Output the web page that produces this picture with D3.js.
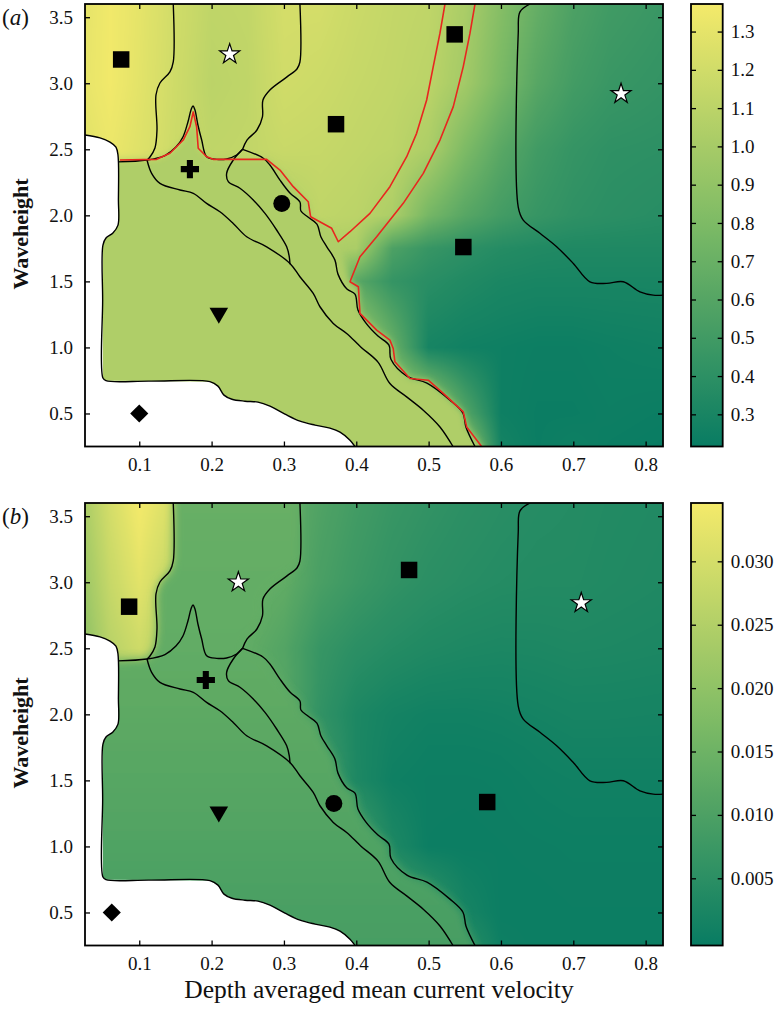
<!DOCTYPE html>
<html><head><meta charset="utf-8">
<script src="https://cdn.jsdelivr.net/npm/d3@7"></script>
<style>body{margin:0;background:#fff} svg text{font-family:"Liberation Serif","Times New Roman",serif;fill:#111}</style>
</head><body><svg id="chart" width="783" height="1009" xmlns="http://www.w3.org/2000/svg"></svg>
<script>
// ---------------- DATA ----------------
const xDomain = [0.025, 0.824];
const yDomain = [0.25, 3.6];
const xTicks = [0.1, 0.2, 0.3, 0.4, 0.5, 0.6, 0.7, 0.8];
const yTicks = [0.5, 1.0, 1.5, 2.0, 2.5, 3.0, 3.5];
const cbDomainA = [0.216, 1.372];
const cbTicksA = [0.3, 0.4, 0.5, 0.6, 0.7, 0.8, 0.9, 1.0, 1.1, 1.2, 1.3];
const cbDomainB = [-0.0003, 0.0346];
const cbTicksB = [0.005, 0.010, 0.015, 0.020, 0.025, 0.030];
const colorStops = ['#087c63', '#7cba65', '#f4ea6a'];

// field grid (columns = velocity, rows = waveheight, top row first)
const gx = [0.025, 0.06, 0.1, 0.15, 0.2, 0.25, 0.3, 0.35, 0.4, 0.45, 0.5, 0.55, 0.6, 0.65, 0.7, 0.75, 0.825];
const gy = [3.6, 3.0, 2.5, 2.0, 1.75, 1.5, 1.0, 0.5, 0.25];
const fieldA = [
  [1.30, 1.36, 1.30, 1.20, 1.12, 1.13, 1.22, 1.22, 1.17, 1.14, 1.12, 1.02, 0.84, 0.68, 0.56, 0.50, 0.46],
  [1.31, 1.36, 1.29, 1.19, 1.10, 1.12, 1.20, 1.18, 1.15, 1.13, 1.10, 0.98, 0.78, 0.61, 0.51, 0.46, 0.43],
  [1.28, 1.33, 1.27, 1.18, 1.12, 1.13, 1.16, 1.15, 1.13, 1.11, 1.03, 0.80, 0.62, 0.50, 0.44, 0.41, 0.40],
  [1.04, 1.04, 1.04, 1.04, 1.04, 1.04, 1.04, 1.12, 1.10, 1.03, 0.76, 0.61, 0.51, 0.45, 0.41, 0.39, 0.37],
  [1.04, 1.04, 1.04, 1.04, 1.04, 1.04, 1.04, 1.04, 1.02, 0.56, 0.45, 0.40, 0.36, 0.34, 0.33, 0.33, 0.33],
  [1.04, 1.04, 1.04, 1.04, 1.04, 1.04, 1.04, 1.04, 0.62, 0.44, 0.38, 0.34, 0.31, 0.30, 0.30, 0.30, 0.30],
  [1.04, 1.04, 1.04, 1.04, 1.04, 1.04, 1.04, 1.04, 1.04, 0.70, 0.29, 0.26, 0.25, 0.24, 0.24, 0.25, 0.26],
  [1.04, 1.04, 1.04, 1.04, 1.04, 1.04, 1.04, 1.04, 1.04, 1.04, 1.04, 0.60, 0.25, 0.23, 0.23, 0.24, 0.23],
  [1.04, 1.04, 1.04, 1.04, 1.04, 1.04, 1.04, 1.04, 1.04, 1.04, 1.04, 0.95, 0.28, 0.23, 0.25, 0.23, 0.22]
];
const fieldB = [
  [0.024, 0.030, 0.0345, 0.030, 0.014, 0.014, 0.013, 0.0105, 0.0085, 0.007, 0.006, 0.0052, 0.0046, 0.0042, 0.0040, 0.0037, 0.0034],
  [0.022, 0.028, 0.032, 0.027, 0.014, 0.014, 0.013, 0.0095, 0.0075, 0.006, 0.005, 0.0044, 0.0040, 0.0038, 0.0038, 0.0035, 0.0032],
  [0.020, 0.026, 0.029, 0.024, 0.013, 0.013, 0.011, 0.0068, 0.005, 0.004, 0.0033, 0.0029, 0.0027, 0.0028, 0.0030, 0.0029, 0.0027],
  [0.013, 0.013, 0.013, 0.013, 0.013, 0.013, 0.012, 0.006, 0.0028, 0.0016, 0.0011, 0.0011, 0.0013, 0.0016, 0.0019, 0.0019, 0.0018],
  [0.0122, 0.0122, 0.0122, 0.0122, 0.0122, 0.0122, 0.0122, 0.0075, 0.0028, 0.0012, 0.0007, 0.0007, 0.0008, 0.0011, 0.0014, 0.0014, 0.0014],
  [0.012, 0.012, 0.012, 0.012, 0.012, 0.012, 0.012, 0.009, 0.003, 0.0008, 0.0004, 0.0004, 0.0005, 0.0008, 0.0010, 0.0010, 0.0010],
  [0.0105, 0.0105, 0.0105, 0.0105, 0.0105, 0.0105, 0.0105, 0.0105, 0.009, 0.003, 0.0003, 0.0002, 0.0003, 0.0004, 0.0005, 0.0005, 0.0005],
  [0.0095, 0.0095, 0.0095, 0.0095, 0.0095, 0.0095, 0.0095, 0.0095, 0.0095, 0.0095, 0.007, 0.002, 0.0002, 0.0002, 0.0003, 0.0003, 0.0003],
  [0.009, 0.009, 0.009, 0.009, 0.009, 0.009, 0.009, 0.009, 0.009, 0.009, 0.009, 0.005, 0.0006, 0.0002, 0.0003, 0.0002, 0.0002]
];
const plateauValueA = 1.04;
const plateauProfileB = [[3.6, 0.0140], [2.5, 0.0132], [2.0, 0.0125], [1.5, 0.0116], [1.0, 0.0106], [0.5, 0.0096], [0.25, 0.0092]];

// regime boundaries (velocity, waveheight)
const lineW = [[0.025,2.608],[0.0457,2.586],[0.0595,2.555],[0.0678,2.517],[0.0706,2.456],[0.0712,2.116],[0.0706,1.926],[0.0636,1.866],[0.054,1.828],[0.0498,1.775],[0.0494,1.358],[0.0498,0.768],[0.054,0.748],[0.1148,0.745],[0.1977,0.741],[0.2088,0.707],[0.2171,0.639],[0.2281,0.608],[0.2461,0.593],[0.2641,0.586],[0.2807,0.555],[0.3014,0.495],[0.3222,0.442],[0.3429,0.412],[0.3636,0.389],[0.3775,0.359],[0.3913,0.298],[0.3982,0.25]];
const lineA = [[0.147,3.6],[0.147,3.161],[0.1424,3.086],[0.1286,3.002],[0.1231,2.911],[0.1245,2.646],[0.1217,2.510],[0.1148,2.442],[0.1107,2.419]];
const lineB = [[0.0706,2.405],[0.1107,2.419],[0.1355,2.453],[0.1507,2.517],[0.1604,2.593],[0.1673,2.707],[0.1715,2.798],[0.1742,2.828],[0.1770,2.798],[0.1811,2.684],[0.1863,2.570],[0.1932,2.444],[0.2070,2.424],[0.2208,2.427],[0.2346,2.457],[0.2429,2.500]];
const lineC = [[0.3221,3.6],[0.3221,3.161],[0.3180,3.108],[0.3042,3.048],[0.2806,2.949],[0.2710,2.873],[0.2703,2.745],[0.2627,2.646],[0.2489,2.570],[0.2429,2.500]];
const lineD = [[0.2429,2.500],[0.2300,2.419],[0.2208,2.318],[0.2231,2.255],[0.2392,2.205],[0.2576,2.116],[0.2738,2.015],[0.2899,1.889],[0.3038,1.762],[0.3074,1.686],[0.3083,1.630]];
const lineE = [[0.2429,2.500],[0.2710,2.434],[0.2806,2.381],[0.2945,2.267],[0.3083,2.169],[0.3221,2.101],[0.3235,2.033],[0.3332,1.987],[0.3456,1.934],[0.3512,1.836],[0.3595,1.760],[0.3705,1.661],[0.3747,1.555],[0.3871,1.442],[0.3982,1.404],[0.4023,1.283],[0.4134,1.184],[0.4300,1.086],[0.4452,1.017],[0.4479,0.911],[0.4700,0.783],[0.4977,0.730],[0.5295,0.601],[0.5475,0.502],[0.5517,0.396],[0.5641,0.25]];
const lineF = [[0.1107,2.419],[0.1171,2.318],[0.1286,2.242],[0.1563,2.192],[0.1747,2.167],[0.1931,2.091],[0.2115,2.027],[0.2299,1.939],[0.2485,1.838],[0.2761,1.762],[0.3083,1.636],[0.3221,1.535],[0.3405,1.409],[0.3498,1.308],[0.3682,1.182],[0.3867,1.106],[0.4065,1.002],[0.4300,0.889],[0.4465,0.727],[0.4696,0.626],[0.4926,0.525],[0.5157,0.398],[0.5337,0.25]];
const lineG = [[0.6401,3.6],[0.6263,3.540],[0.6239,3.381],[0.6239,2.063],[0.6308,1.964],[0.6539,1.864],[0.6770,1.762],[0.7000,1.636],[0.7230,1.497],[0.7461,1.485],[0.7691,1.497],[0.7921,1.421],[0.8105,1.396],[0.824,1.396]];
const redLine1 = [[0.0733,2.419],[0.1240,2.424],[0.1424,2.470],[0.1608,2.570],[0.1700,2.671],[0.1746,2.783],[0.1793,2.671],[0.1815,2.508],[0.1932,2.444],[0.2023,2.424],[0.2761,2.424],[0.2945,2.343],[0.3129,2.217],[0.3336,2.103],[0.3369,1.989],[0.3660,1.902],[0.3751,1.800],[0.3913,1.876],[0.4189,2.015],[0.4465,2.217],[0.4697,2.444],[0.4834,2.621],[0.4973,2.873],[0.5064,3.126],[0.5157,3.379],[0.5226,3.6]];
const redLine2 = [[0.5641,3.6],[0.5572,3.379],[0.5479,3.126],[0.5341,2.823],[0.5157,2.570],[0.4926,2.318],[0.4649,2.091],[0.4282,1.838],[0.4051,1.686],[0.3913,1.497],[0.4029,1.459],[0.4051,1.258],[0.4282,1.131],[0.4465,1.055],[0.4511,0.992],[0.4534,0.891],[0.4742,0.765],[0.4995,0.752],[0.5203,0.652],[0.5479,0.512],[0.5526,0.398],[0.5733,0.25]];

const markersA = [
  {shape:'square', x:0.075, y:3.18}, {shape:'star', x:0.225, y:3.22}, {shape:'square', x:0.536, y:3.37},
  {shape:'star', x:0.766, y:2.92}, {shape:'square', x:0.372, y:2.69}, {shape:'square', x:0.548, y:1.76},
  {shape:'plus', x:0.170, y:2.35}, {shape:'circle', x:0.297, y:2.09}, {shape:'triangle', x:0.210, y:1.26},
  {shape:'diamond', x:0.100, y:0.50}
];
const markersB = [
  {shape:'square', x:0.086, y:2.815}, {shape:'star', x:0.237, y:3.00}, {shape:'square', x:0.473, y:3.093},
  {shape:'star', x:0.711, y:2.843}, {shape:'plus', x:0.192, y:2.26}, {shape:'circle', x:0.369, y:1.325},
  {shape:'triangle', x:0.210, y:1.262}, {shape:'square', x:0.581, y:1.336}, {shape:'diamond', x:0.062, y:0.50}
];

// ---------------- DRAWING ----------------
const FONT = '"Liberation Serif", "Times New Roman", Times, serif';
const svg = d3.select('#chart');
const defs = svg.append('defs');
const PL = 85, PR = 663, PH = 442.5;
const CBL = 691, CBW = 31.7;
const x = d3.scaleLinear().domain(xDomain).range([PL, PR]);
const ramp = d3.scaleLinear().domain([0, 0.5, 1]).range(colorStops).interpolate(d3.interpolateRgb);
const lut = d3.range(256).map(i => d3.rgb(ramp(i / 255)));
const blackLines = [lineW, lineA, lineB, lineC, lineD, lineE, lineF, lineG];

const panels = [
  {id:'a', top:4, field:fieldA, cb:cbDomainA, ticks:cbTicksA, fmt:d3.format('.1f'), markers:markersA, blur:3, red:true},
  {id:'b', top:503, field:fieldB, cb:cbDomainB, ticks:cbTicksB, fmt:d3.format('.3f'), markers:markersB, blur:4, red:false}
];

panels.forEach(p => {
  const y = d3.scaleLinear().domain(yDomain).range([p.top + PH, p.top]);
  const tS = d3.scaleLinear().domain(p.cb).range([0, 1]).clamp(true);
  const color = v => ramp(tS(v));
  const g = svg.append('g');

  defs.append('clipPath').attr('id', 'clip-' + p.id).append('rect')
    .attr('x', PL).attr('y', p.top).attr('width', PR - PL).attr('height', PH);
  const f = defs.append('filter').attr('id', 'blur-' + p.id)
    .attr('x', '-10%').attr('y', '-10%').attr('width', '120%').attr('height', '120%');
  f.append('feGaussianBlur').attr('stdDeviation', p.blur);

  // smooth field image
  const w = PR - PL, h = Math.round(PH);
  const cv = document.createElement('canvas'); cv.width = w; cv.height = h;
  const ctx = cv.getContext('2d'); const im = ctx.createImageData(w, h);
  for (let j = 0; j < h; j++) {
    const vy = y.invert(p.top + j + 0.5);
    let r = 0; while (r < gy.length - 2 && vy < gy[r + 1]) r++;
    const ty = Math.max(0, Math.min(1, (gy[r] - vy) / (gy[r] - gy[r + 1])));
    for (let i = 0; i < w; i++) {
      const vx = x.invert(PL + i + 0.5);
      let c = 0; while (c < gx.length - 2 && vx > gx[c + 1]) c++;
      const tx = Math.max(0, Math.min(1, (vx - gx[c]) / (gx[c + 1] - gx[c])));
      const F = p.field;
      const v = (1 - ty) * ((1 - tx) * F[r][c] + tx * F[r][c + 1]) + ty * ((1 - tx) * F[r + 1][c] + tx * F[r + 1][c + 1]);
      const col = lut[Math.round(tS(v) * 255)];
      const k = (j * w + i) * 4;
      im.data[k] = col.r; im.data[k + 1] = col.g; im.data[k + 2] = col.b; im.data[k + 3] = 255;
    }
  }
  ctx.putImageData(im, 0, 0);
  const clipped = g.append('g').attr('clip-path', `url(#clip-${p.id})`);
  clipped.append('image').attr('href', cv.toDataURL()).attr('x', PL).attr('y', p.top)
    .attr('width', w).attr('height', h).attr('preserveAspectRatio', 'none');

  const poly = d3.line().x(d => x(d[0])).y(d => y(d[1]));
  const x0 = xDomain[0] - 0.1, yLo = yDomain[0] - 0.2, yHi = yDomain[1] + 0.2;

  // plateau region
  let plateau, fill;
  if (p.id === 'a') {
    const vb = d3.minIndex(redLine1, d => d[1]);
    const cn = d3.minIndex(redLine2, d => d[0]);
    const end = redLine2[redLine2.length - 1];
    plateau = redLine1.slice(0, vb + 1).concat(redLine2.slice(cn))
      .concat([[end[0] + 0.02, yLo], [x0, yLo], [x0, redLine1[0][1]]]);
    fill = color(plateauValueA);
  } else {
    const aTop = lineA[0], cTop = lineC[0], eEnd = lineE[lineE.length - 1];
    plateau = [[x0, yLo], [x0, lineB[0][1]]].concat(lineB.slice(0, 2))
      .concat(lineA.slice().reverse()).concat([[aTop[0], yHi], [cTop[0], yHi]])
      .concat(lineC).concat(lineE.slice(1)).concat([[eEnd[0] + 0.01, yLo]]);
    const grad = defs.append('linearGradient').attr('id', 'plat-' + p.id)
      .attr('gradientUnits', 'userSpaceOnUse').attr('x1', 0).attr('x2', 0)
      .attr('y1', y(yDomain[1])).attr('y2', y(yDomain[0]));
    grad.selectAll('stop').data(plateauProfileB).join('stop')
      .attr('offset', d => (y(d[0]) - y(yDomain[1])) / (y(yDomain[0]) - y(yDomain[1])))
      .attr('stop-color', d => color(d[1]));
    fill = `url(#plat-${p.id})`;
  }
  clipped.append('path').attr('d', poly(plateau) + 'Z').attr('fill', fill)
    .attr('filter', `url(#blur-${p.id})`);

  // no-data mask
  const wEnd = lineW[lineW.length - 1];
  const mask = lineW.concat([[wEnd[0], yLo], [x0, yLo], [x0, lineW[0][1]]]);
  clipped.append('path').attr('d', poly(mask) + 'Z').attr('fill', '#fff');

  // boundaries
  const smooth = d3.line().x(d => x(d[0])).y(d => y(d[1])).curve(d3.curveCatmullRom.alpha(0.5));
  clipped.selectAll('path.bl').data(blackLines).join('path').attr('class', 'bl')
    .attr('d', smooth).attr('fill', 'none').attr('stroke', '#000').attr('stroke-width', 1.4);
  if (p.red) {
    clipped.selectAll('path.rl').data([redLine1, redLine2]).join('path').attr('class', 'rl')
      .attr('d', poly).attr('fill', 'none').attr('stroke', '#e8261f').attr('stroke-width', 1.6)
      .attr('stroke-linejoin', 'round');
  }

  // markers
  const sym = {
    square: d3.symbol(d3.symbolSquare, 272), star: d3.symbol(d3.symbolStar, 125),
    plus: d3.symbol(d3.symbolCross, 185), circle: d3.symbol(d3.symbolCircle, 227),
    triangle: d3.symbol(d3.symbolTriangle, 150), diamond: d3.symbol(d3.symbolSquare, 165)
  };
  const rot = {triangle: 180, diamond: 45};
  g.selectAll('path.mk').data(p.markers).join('path').attr('class', 'mk')
    .attr('d', d => sym[d.shape]())
    .attr('transform', d => `translate(${x(d.x)},${y(d.y)}) rotate(${rot[d.shape] || 0})`)
    .attr('fill', d => d.shape === 'star' ? '#fff' : '#000')
    .attr('stroke', d => d.shape === 'star' ? '#000' : 'none').attr('stroke-width', 1.2);

  // axes
  g.append('g').attr('transform', `translate(0,${p.top + PH})`)
    .call(d3.axisBottom(x).tickValues(xTicks).tickFormat(d3.format('.1f')).tickSize(-5).tickPadding(11));
  g.append('g').attr('transform', `translate(0,${p.top})`)
    .call(d3.axisTop(x).tickValues(xTicks).tickFormat('').tickSize(-5));
  g.append('g').attr('transform', `translate(${PL},0)`)
    .call(d3.axisLeft(y).tickValues(yTicks).tickFormat(d3.format('.1f')).tickSize(-5).tickPadding(12));
  g.append('g').attr('transform', `translate(${PR},0)`)
    .call(d3.axisRight(y).tickValues(yTicks).tickFormat('').tickSize(-5));
  g.selectAll('.domain').remove();
  g.selectAll('.tick line').attr('stroke', '#000').attr('stroke-width', 1.3);
  g.selectAll('.tick text').style('font-size', '19px');
  g.append('rect').attr('x', PL).attr('y', p.top).attr('width', PR - PL).attr('height', PH)
    .attr('fill', 'none').attr('stroke', '#000').attr('stroke-width', 1.8);

  // y label
  g.append('text').attr('transform', `translate(28,${p.top + 230}) rotate(-90)`)
    .attr('text-anchor', 'middle').style('font-size', '22px').style('font-weight', 'bold').text('Waveheight');
  // panel label
  const pl = g.append('text').attr('x', 2).attr('y', p.top + 21).style('font-size', '23px');
  pl.append('tspan').text('(');
  pl.append('tspan').style('font-style', 'italic').text(p.id);
  pl.append('tspan').text(')');

  // colorbar
  const cy = d3.scaleLinear().domain(p.cb).range([p.top + PH, p.top]);
  const cg = defs.append('linearGradient').attr('id', 'cb-' + p.id)
    .attr('x1', 0).attr('x2', 0).attr('y1', 1).attr('y2', 0);
  cg.selectAll('stop').data(d3.range(0, 1.0001, 0.05)).join('stop')
    .attr('offset', d => d).attr('stop-color', d => ramp(d));
  const cbg = g.append('g');
  cbg.append('rect').attr('x', CBL).attr('y', p.top).attr('width', CBW).attr('height', PH)
    .attr('fill', `url(#cb-${p.id})`);
  cbg.append('g').attr('transform', `translate(${CBL + CBW},0)`)
    .call(d3.axisRight(cy).tickValues(p.ticks).tickFormat(p.fmt).tickSize(-5).tickPadding(8));
  cbg.append('g').attr('transform', `translate(${CBL},0)`)
    .call(d3.axisLeft(cy).tickValues(p.ticks).tickFormat('').tickSize(-5));
  cbg.selectAll('.domain').remove();
  cbg.selectAll('.tick line').attr('stroke', '#000').attr('stroke-width', 1.3);
  cbg.selectAll('.tick text').style('font-size', '19px');
  cbg.append('rect').attr('x', CBL).attr('y', p.top).attr('width', CBW).attr('height', PH)
    .attr('fill', 'none').attr('stroke', '#000').attr('stroke-width', 1.8);
});

svg.append('text').attr('x', 379).attr('y', 998).attr('text-anchor', 'middle')
  .style('font-size', '25.5px').text('Depth averaged mean current velocity');

svg.selectAll('text').style('font-family', FONT).style('fill', '#111');
svg.selectAll('g.tick').attr('font-family', null);
svg.selectAll('g').filter(function () { return this.getAttribute('font-family'); }).attr('font-family', null);
</script></body></html>
